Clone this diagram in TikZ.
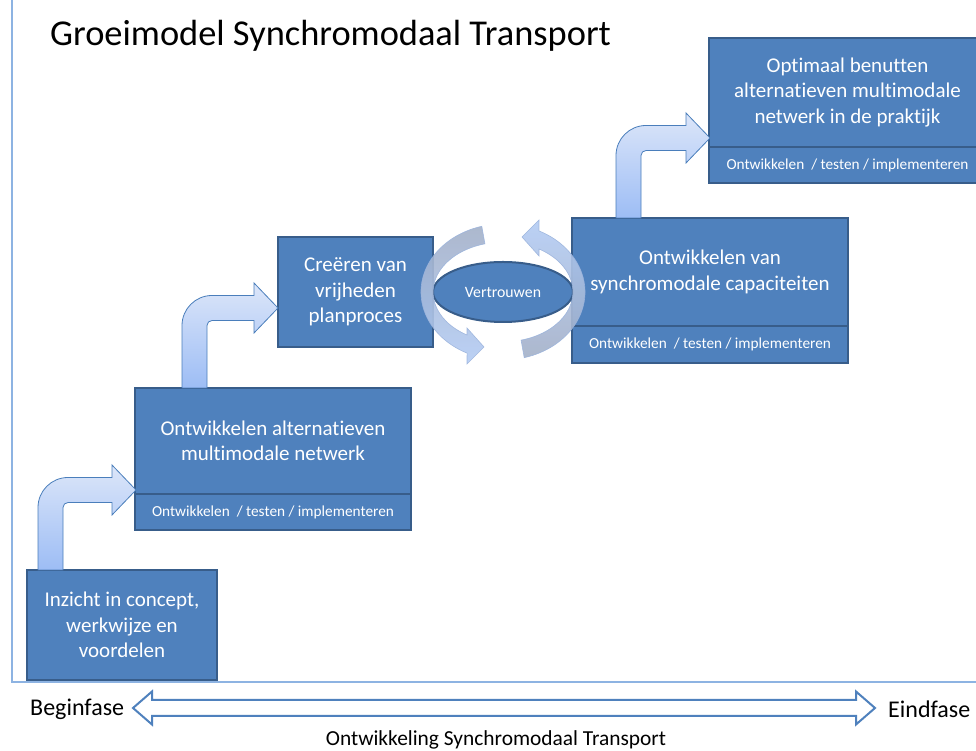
\documentclass[tikz,border=0pt]{standalone}
\usepackage{fontspec}
\setmainfont{Carlito}[Ligatures={NoCommon,NoContextual}]
\usetikzlibrary{positioning,shapes.geometric}

\definecolor{stapblauw}{HTML}{4F81BD}
\definecolor{staprand}{HTML}{385D8A}
\definecolor{pijllicht}{HTML}{DCE6F9}
\definecolor{pijldonker}{HTML}{9DBDF5}
\definecolor{pijlrand}{HTML}{4A7EBB}
\definecolor{booggrijs}{HTML}{A3B0C8}
\definecolor{boogblauw}{HTML}{B3CCF4}
\definecolor{boogrand}{HTML}{9BB3DC}
\definecolor{kaderblauw}{HTML}{8DB3E2}

\tikzstyle{stap} = [rectangle, draw=staprand, line width=2pt, fill=stapblauw, text=white, align=center, outer sep=0pt, inner sep=0pt, font=\fontsize{21}{25.5}\selectfont]
\tikzstyle{stapsub} = [stap, font=\fontsize{15.3}{18}\selectfont]
\tikzstyle{kern} = [ellipse, draw=staprand, line width=2pt, fill=stapblauw, text=white, minimum width=140pt, minimum height=60pt, inner sep=0pt, font=\fontsize{15.8}{18}\selectfont]
\tikzstyle{bocht} = [draw=pijlrand, line width=0.8pt, top color=pijllicht, bottom color=pijldonker]
\tikzstyle{boog} = [draw=boogrand, line width=0.6pt, opacity=0.9]
\tikzstyle{fase} = [anchor=west, inner sep=0pt, font=\fontsize{24}{28}\selectfont]

\begin{document}
\begin{tikzpicture}[x=1pt,y=1pt]
\useasboundingbox (0,0) rectangle (976,751);

\draw[kaderblauw, line width=1.2pt] (12,751) -- (12,69) -- (976,69);

\node[anchor=west, inner sep=0pt, font=\fontsize{36.4}{42}\selectfont] (titel) at (50,715) {Groeimodel Synchromodaal Transport};

\node[stap, minimum width=190pt, minimum height=110pt] (inzicht) at (122,126) {Inzicht in concept,\\werkwijze en\\voordelen};

\node[stap, minimum width=276pt, minimum height=106pt] (netwerk) at (273,310) {Ontwikkelen alternatieven\\multimodale netwerk};
\node[stapsub, minimum width=276pt, minimum height=36pt, below=0pt of netwerk] (netwerkSub) {Ontwikkelen \ / testen / implementeren};

\node[stap, minimum width=155pt, minimum height=110pt] (vrijheden) at (355.5,459) {Creëren van\\vrijheden\\planproces};

\node[stap, minimum width=276pt, minimum height=108pt] (capaciteit) at (710,479) {Ontwikkelen van\\synchromodale capaciteiten};
\node[stapsub, minimum width=276pt, minimum height=37pt, below=0pt of capaciteit] (capaciteitSub) {Ontwikkelen \ / testen / implementeren};

\node[stap, minimum width=277pt, minimum height=109pt] (praktijk) at (847.5,658.5) {Optimaal benutten\\alternatieven multimodale\\netwerk in de praktijk};
\node[stapsub, minimum width=277pt, minimum height=36pt, below=0pt of praktijk] (praktijkSub) {Ontwikkelen \ / testen / implementeren};

\node[kern] (vertrouwen) at (503,459) {Vertrouwen};

% bochtpijlen
\draw[bocht] ([xshift=11pt]inzicht.north west) -- ++(0,62.5) arc[start angle=180, end angle=90, radius=30]
  -- ++(44,0) -- ++(0,12.5) -- ++(24,-25) -- ++(-24,-25) -- ++(0,12.5) -- ++(-44,0)
  arc[start angle=90, end angle=180, radius=5] -- ++(0,-62.5) -- cycle;
\draw[bocht] ([xshift=47pt]netwerk.north west) -- ++(0,62.5) arc[start angle=180, end angle=90, radius=30]
  -- ++(42,0) -- ++(0,12.5) -- ++(24,-25) -- ++(-24,-25) -- ++(0,12.5) -- ++(-42,0)
  arc[start angle=90, end angle=180, radius=5] -- ++(0,-62.5) -- cycle;
\draw[bocht] ([xshift=44pt]capaciteit.north west) -- ++(0,62.5) arc[start angle=180, end angle=90, radius=30]
  -- ++(40,0) -- ++(0,12.5) -- ++(24,-25) -- ++(-24,-25) -- ++(0,12.5) -- ++(-40,0)
  arc[start angle=90, end angle=180, radius=5] -- ++(0,-62.5) -- cycle;

% cirkelpijlen rond vertrouwen
\begin{scope}[shift={(vertrouwen.center)}]
\draw[boog, top color=booggrijs, bottom color=boogblauw] (105:82 and 68)
  arc[start angle=105, end angle=244, x radius=82, y radius=68]
  -- (-36,-72) -- (-19,-55) -- (-36,-36) -- (-36,-43)
  arc[start angle=239, end angle=105, x radius=70, y radius=50] -- cycle;
\draw[boog, top color=boogblauw, bottom color=booggrijs] (285:82 and 68)
  arc[start angle=285, end angle=424, x radius=82, y radius=68]
  -- (36,72) -- (19,55) -- (36,36) -- (36,43)
  arc[start angle=419, end angle=285, x radius=70, y radius=50] -- cycle;
\end{scope}

\node[fase] (begin) at (30,42) {Beginfase};
\node[fase] (eind) at (888,42) {Eindfase};
\node[font=\fontsize{21.4}{25}\selectfont] (ontwikkeling) at (496,11) {Ontwikkeling Synchromodaal Transport};

\coordinate (links) at (133,43);
\draw[stapblauw, line width=2pt, fill=white] (links) -- ++(19,16.5) -- ++(0,-8.5) -- ++(704,0) -- ++(0,8.5)
  -- ++(19,-16.5) -- ++(-19,-16.5) -- ++(0,8.5) -- ++(-704,0) -- ++(0,-8.5) -- cycle;

\end{tikzpicture}
\end{document}
